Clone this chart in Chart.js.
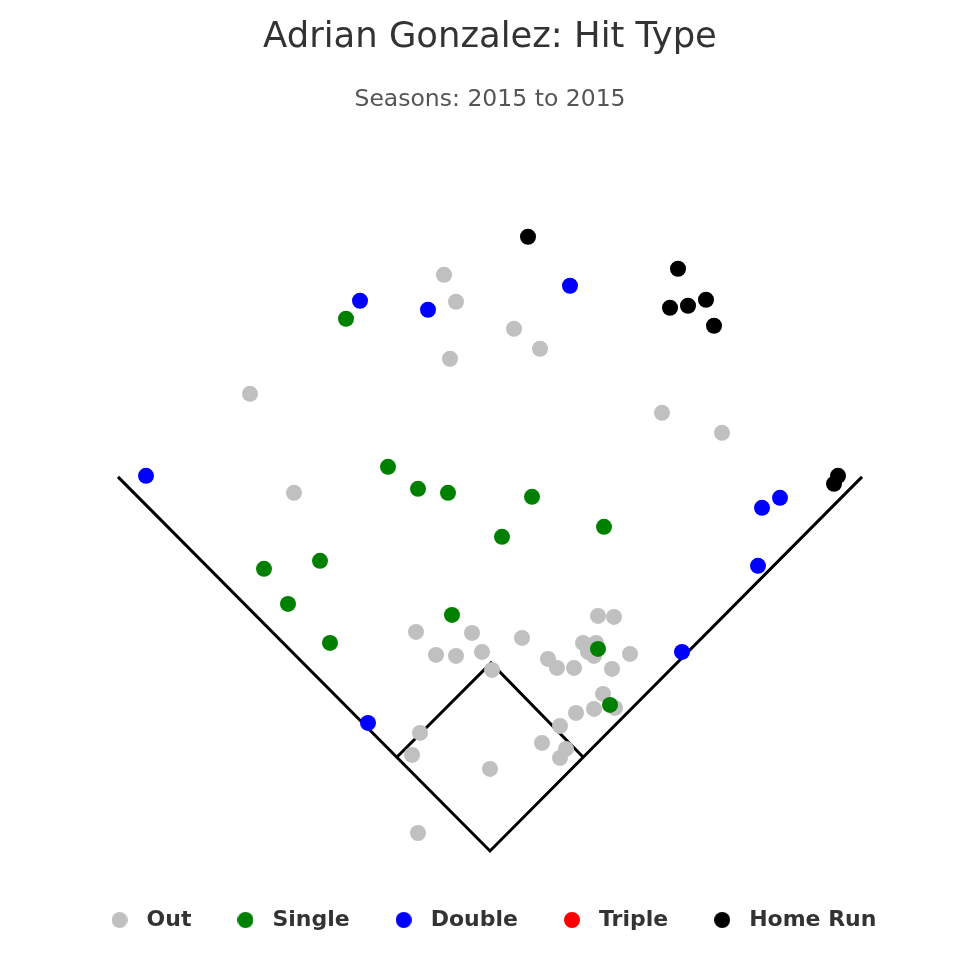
<!DOCTYPE html>
<html>
<head>
<meta charset="utf-8">
<script src="https://cdn.jsdelivr.net/npm/chart.js@4/dist/chart.umd.min.js"></script>
<style>
  html, body { margin: 0; padding: 0; background: #ffffff; }
  #wrap { width: 980px; height: 980px; }
</style>
</head>
<body>
<div id="wrap"><canvas id="grafico"></canvas></div>
<script>
// Hit locations in plot units (home plate at 0,0)
const outX = [-46, -34, -40, 24, 50, -240, -196, 172, 232,
    -74, -18, -54, -34, -8, 2, 32,
    108, 124, 93, 106, 98, 104, 140,
    58, 67, 84, 122, 113, 104, 125, 86, 70,
    52, 76, 70, -70, -78, 0, -72];
const outY = [576, 549, 492, 522, 502, 457, 358, 438, 418,
    219, 218, 196, 195, 199, 181, 213,
    235, 234, 208, 208, 199, 195, 197,
    192, 183, 183, 182, 157, 142, 143, 138, 125,
    108, 102, 93, 118, 96, 82, 18];

const singleX = [-144, -102, -72, -42, 42, 12, 114, -226, -170, -202, -160, -38, 108, 120];
const singleY = [532, 384, 362, 358, 354, 314, 324, 282, 290, 247, 208, 236, 202, 146];

const doubleX = [-130, -62, 80, -344, 272, 290, 268, 192, -122];
const doubleY = [550, 541, 565, 375, 343, 353, 285, 199, 128];

const tripleX = [];
const tripleY = [];

const homeRunX = [38, 188, 180, 198, 216, 224, 348, 344];
const homeRunY = [614, 582, 543, 545, 551, 525, 375, 367];

// Field outline
const foulLineX = [-372, 0, 372];
const foulLineY = [374, 0, 374];
const infieldX = [-93, 1, 93];
const infieldY = [94, 188, 94];

const labelArray = ["Out", "Single", "Double", "Triple", "Home Run"];
const colorArray = ["#c0c0c0", "#008000", "#0000ff", "#ff0000", "#000000"];

function toPoints(xs, ys) {
    return xs.map((x, i) => ({ x: x, y: ys[i] }));
}

// small round marker for the legend
function makeDot(color) {
    const c = document.createElement("canvas");
    c.width = 16;
    c.height = 16;
    const ctx = c.getContext("2d");
    ctx.fillStyle = color;
    ctx.beginPath();
    ctx.arc(8, 8, 8, 0, Math.PI * 2);
    ctx.fill();
    return c;
}

const hitSets = [
    [outX, outY],
    [singleX, singleY],
    [doubleX, doubleY],
    [tripleX, tripleY],
    [homeRunX, homeRunY],
];

const fontFamily = "'DejaVu Sans', sans-serif";

let datasets = hitSets.map((set, i) => ({
    type: "scatter",
    label: labelArray[i],
    data: toPoints(set[0], set[1]),
    backgroundColor: colorArray[i],
    borderWidth: 0,
    pointRadius: 8,
    pointHoverRadius: 8,
    order: 5 - i,
}));

// field lines, drawn under the points
datasets.push({
    type: "line",
    label: "foul",
    data: toPoints(foulLineX, foulLineY),
    borderColor: "#000000",
    borderWidth: 3,
    pointRadius: 0,
    fill: false,
    order: 10,
});
datasets.push({
    type: "line",
    label: "infield",
    data: toPoints(infieldX, infieldY),
    borderColor: "#000000",
    borderWidth: 3,
    pointRadius: 0,
    fill: false,
    order: 10,
});

const options = {
    animation: false,
    responsive: true,
    maintainAspectRatio: false,
    events: [],
    layout: {
        autoPadding: false,
        padding: { left: 10, right: 10, top: 0, bottom: 39 },
    },
    scales: {
        x: { type: "linear", min: -480, max: 480, display: false },
        y: { type: "linear", min: -20, max: 731, display: false },
    },
    plugins: {
        title: {
            display: true,
            text: "Adrian Gonzalez: Hit Type",
            color: "#333333",
            font: { size: 35.4, family: fontFamily, weight: "normal" },
            padding: { top: 17, bottom: 16 },
        },
        subtitle: {
            display: true,
            text: "Seasons: 2015 to 2015",
            color: "#555555",
            font: { size: 23.5, family: fontFamily, weight: "normal" },
            padding: { top: 10, bottom: 6 },
        },
        legend: {
            display: true,
            position: "bottom",
            labels: {
                usePointStyle: true,
                pointStyleWidth: 32,
                boxHeight: 16,
                padding: 38,
                color: "#333333",
                font: { size: 22, family: fontFamily, weight: "bold" },
                generateLabels: (chart) => {
                    const items = Chart.defaults.plugins.legend.labels.generateLabels(chart);
                    return items.map((item) => ({
                        ...item,
                        pointStyle: makeDot(colorArray[item.datasetIndex] || "#000000"),
                    }));
                },
                filter: (item) => labelArray.includes(item.text),
                sort: (a, b) => a.datasetIndex - b.datasetIndex,
            },
        },
        tooltip: { enabled: false },
    },
};

new Chart(document.getElementById("grafico"), {
    data: { datasets: datasets },
    options: options,
});
</script>
</body>
</html>
